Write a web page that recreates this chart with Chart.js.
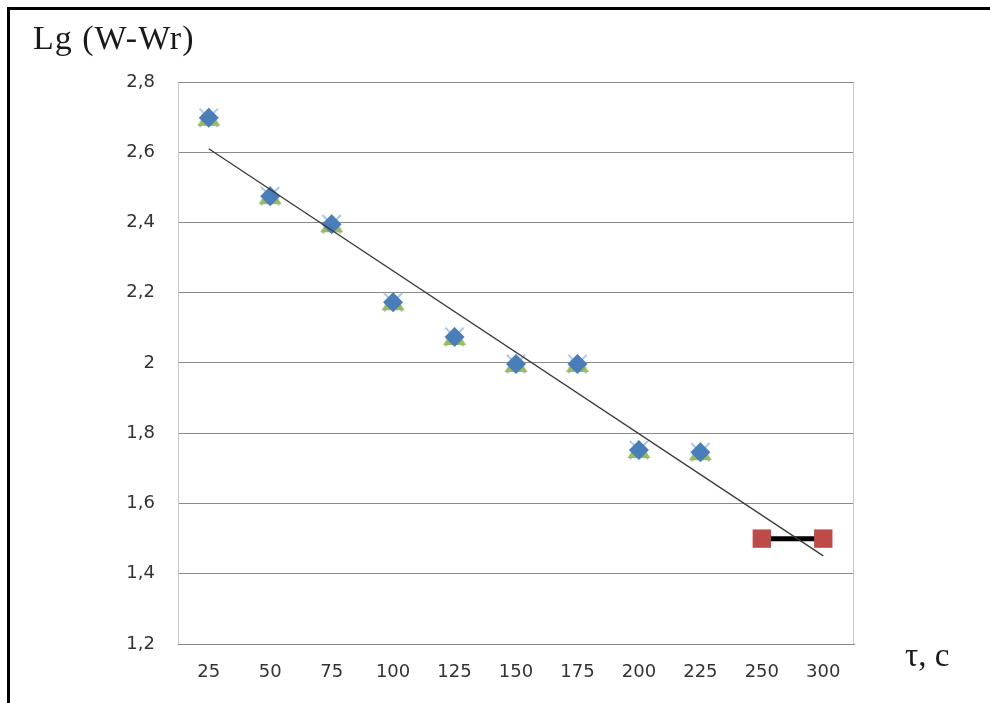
<!DOCTYPE html>
<html lang="ru">
<head>
    <meta charset="UTF-8">
    <script src="https://cdn.jsdelivr.net/npm/chart.js"></script>
    <title>Lg (W-Wr)</title>
    <style>
        body { margin: 0; background: #fff; }
        #frame {
            position: absolute; left: 7px; top: 7px; width: 983px; height: 696px;
            border-top: 3px solid #000; border-left: 3px solid #000;
        }
        #wrap { position: absolute; left: 0; top: 0; width: 990px; height: 703px; }
        .lbl {
            position: absolute; font-family: "Liberation Serif", serif;
            font-size: 34px; line-height: 34px; color: #1a1a1a; white-space: nowrap;
        }
    </style>
</head>
<body>
    <div id="frame"></div>
    <div id="wrap"><canvas id="chart" width="990" height="703"></canvas></div>
    <div class="lbl" style="left:33px; top:21px; letter-spacing:1px;">Lg (W-Wr)</div>
    <div class="lbl" style="left:905px; top:638px; font-size:33px;">τ, c</div>

    <script>
        // время, c
        var categories = ['25', '50', '75', '100', '125', '150', '175', '200', '225', '250', '300'];
        // Lg (W-Wr), измерения
        var lgValues = [2.698, 2.475, 2.395, 2.173, 2.074, 1.997, 1.997, 1.752, 1.746, null, null];
        // конечный участок
        var endValues = [null, null, null, null, null, null, null, null, null, 1.5, 1.5];
        // линия тренда (начало и конец)
        var trendValues = [2.61, null, null, null, null, null, null, null, null, null, 1.451];
        var yMin = 1.2, yMax = 2.8, yStep = 0.2;

        // треугольный маркер, как в Excel (основание ниже центра)
        var tri = document.createElement('canvas');
        tri.width = 24; tri.height = 24;
        var tc = tri.getContext('2d');
        tc.fillStyle = '#9bbb59';
        tc.beginPath();
        tc.moveTo(12, 2);
        tc.lineTo(23.5, 20);
        tc.lineTo(0.5, 20);
        tc.closePath();
        tc.fill();

        // рамка области построения (светло-серая)
        var areaBorder = {
            id: 'areaBorder',
            beforeDatasetsDraw: function (chart) {
                var a = chart.chartArea, c = chart.ctx;
                c.save();
                c.strokeStyle = '#c8c8c8';
                c.lineWidth = 1;
                c.beginPath();
                c.moveTo(a.left + 0.5, a.bottom);
                c.lineTo(a.left + 0.5, a.top + 0.5);
                c.moveTo(a.right - 0.5, a.top + 0.5);
                c.lineTo(a.right - 0.5, a.bottom);
                c.stroke();
                c.restore();
            }
        };

        var ctx = document.getElementById('chart').getContext('2d');
        var chart = new Chart(ctx, {
            type: 'line',
            data: {
                labels: categories,
                datasets: [
                    {
                        label: 'trend', data: trendValues, spanGaps: true,
                        borderColor: '#3a3a3a', borderWidth: 1.3, pointRadius: 0, order: 0
                    },
                    {
                        label: 'ромб', data: lgValues, showLine: false,
                        pointStyle: 'rectRot', pointRadius: 10, pointBackgroundColor: '#4a7ebb',
                        pointBorderColor: '#4a7ebb', pointBorderWidth: 0, order: 1
                    },
                    {
                        label: 'треугольник', data: lgValues, showLine: false,
                        pointStyle: tri, pointRadius: 12, order: 2
                    },
                    {
                        label: 'крест', data: lgValues, showLine: false,
                        pointStyle: 'crossRot', pointRadius: 13, pointBorderColor: '#a8cbe8',
                        pointBorderWidth: 2, order: 3
                    },
                    {
                        label: 'конец', data: endValues, showLine: true,
                        borderColor: '#000', borderWidth: 5,
                        pointStyle: 'rect', pointRadius: 13, pointBackgroundColor: '#be4b48',
                        pointBorderColor: '#be4b48', pointBorderWidth: 0, order: 0
                    }
                ]
            },
            options: {
                responsive: false,
                animation: false,
                events: [],
                layout: { padding: { left: 0, top: 82, right: 136, bottom: 0 } },
                plugins: { legend: { display: false }, tooltip: { enabled: false } },
                scales: {
                    x: {
                        type: 'category',
                        offset: true,
                        grid: { display: false, drawTicks: false },
                        border: { display: true, color: '#8a8a8a', width: 1 },
                        ticks: {
                            padding: 18, color: '#333333',
                            font: { family: 'DejaVu Sans', size: 18 }
                        },
                        afterFit: function (s) { s.height = 59; }
                    },
                    y: {
                        min: yMin, max: yMax,
                        grid: { color: '#8a8a8a', drawTicks: false, lineWidth: 1 },
                        border: { display: false },
                        ticks: {
                            stepSize: yStep, padding: 23, color: '#333333',
                            font: { family: 'DejaVu Sans', size: 18 },
                            callback: function (v) {
                                return String(Number(v.toFixed(1))).replace('.', ',');
                            }
                        },
                        afterFit: function (s) { s.width = 178; }
                    }
                }
            },
            plugins: [areaBorder]
        });
    </script>
</body>
</html>
